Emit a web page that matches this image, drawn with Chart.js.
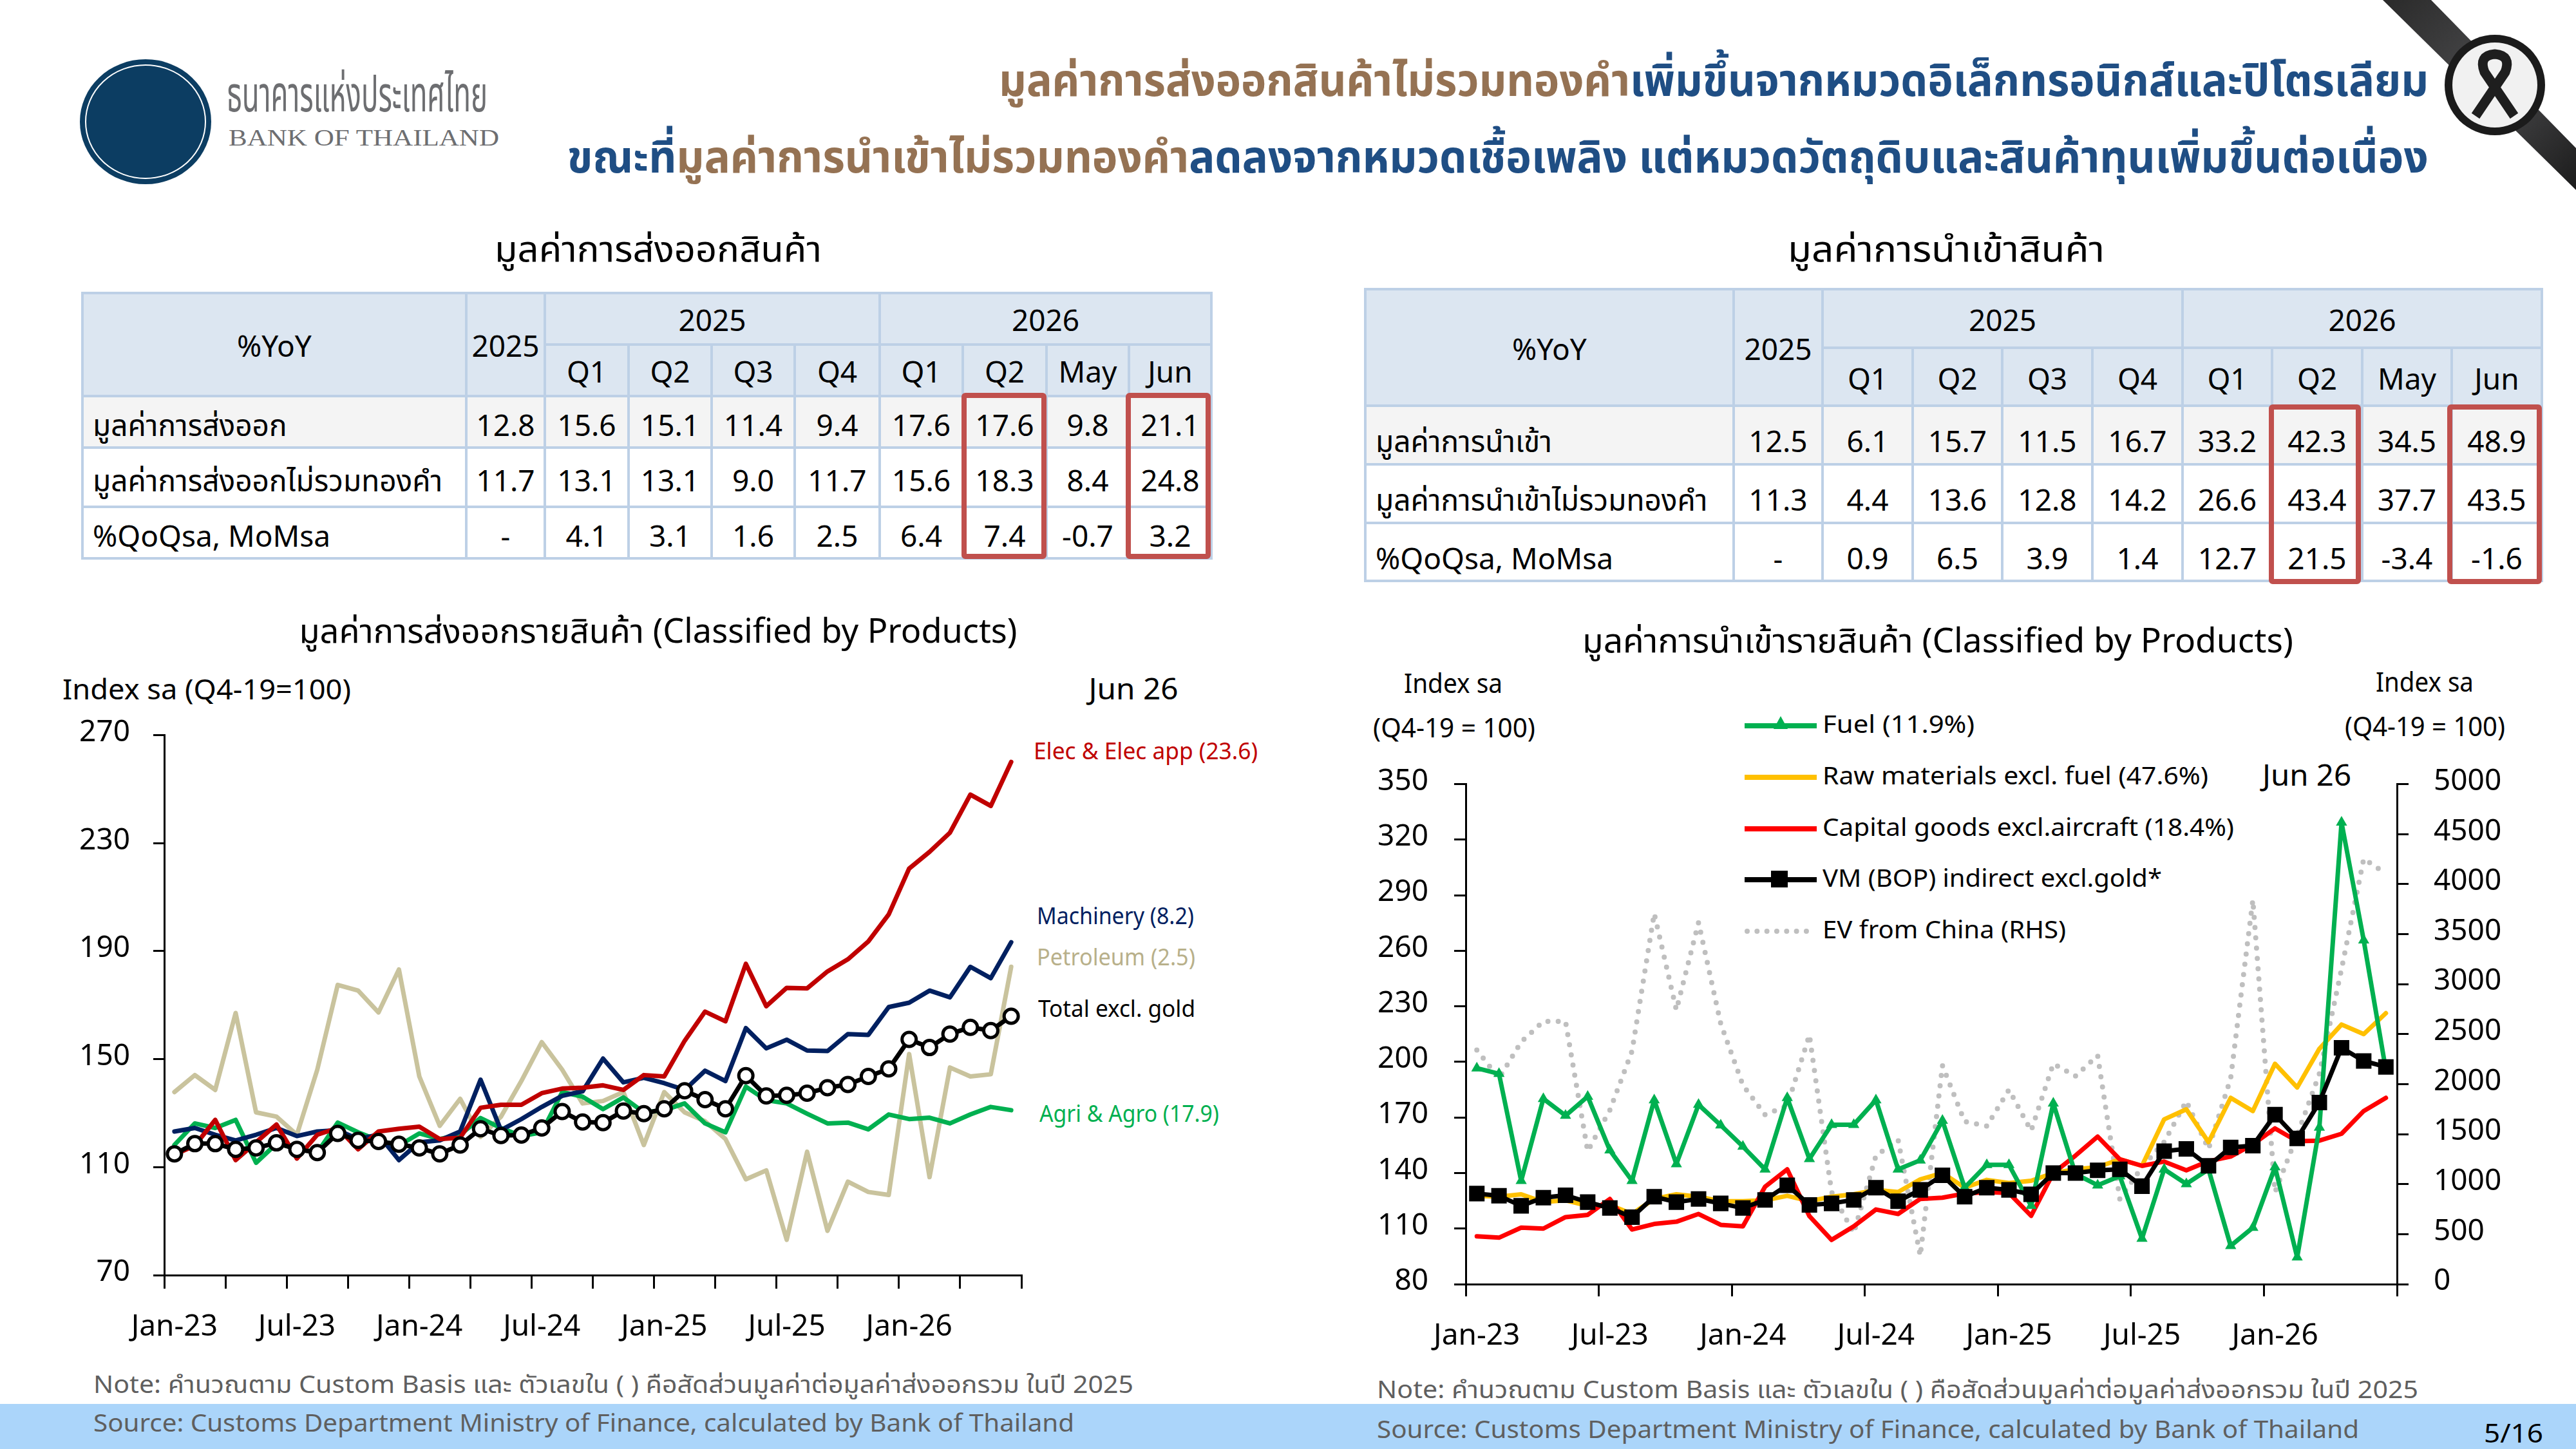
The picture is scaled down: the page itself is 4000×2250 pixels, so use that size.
<!DOCTYPE html>
<html lang="th">
<head>
<meta charset="utf-8">
<title>มูลค่าการส่งออกและนำเข้าสินค้า</title>
<script src="https://cdn.jsdelivr.net/npm/chart.js@4.4.1/dist/chart.umd.min.js"></script>
<style>
  html, body { margin: 0; padding: 0; background: #fff; }
  body {
    width: 4000px; height: 2250px; position: relative; overflow: hidden;
    font-family: 'Noto Sans Thai', 'Noto Sans', 'Open Sans', sans-serif; color: #000;
  }
  .t { position: absolute; white-space: nowrap; line-height: 1.2; }
  .brown { color: #957253; }
  .blue { color: #1f4e84; }
  .note { font-size: 38px; color: #5f5f5f; }
  table.tb { position: absolute; border-collapse: collapse; table-layout: fixed; font-size: 46px; }
  table.tb td { border: 4px solid #bdd0e6; text-align: center; padding: 0; white-space: nowrap; line-height: 1.1; overflow: visible; }
  table.tb td span { position: relative; }
  table.tb tr.head td { background: #dce6f1; }
  table.tb tr.r1 td { background: #f4f4f4; }
  table.tb td.lab { text-align: left; padding-left: 14px; }
  #exportTable tr.head span { top: 5px; }
  #exportTable tr.body span { top: 8px; }
  #importTable tr.head span { top: 6px; }
  #importTable tr.body span { top: 13px; }
  .redbox { position: absolute; border: 8px solid #c0504d; border-radius: 6px; box-sizing: border-box; }
  .band { position: absolute; left: 0; top: 2180px; width: 4000px; height: 70px; background: #abd5fa; }
  .lg { position: absolute; height: 0; }
</style>
</head>
<body>

<svg class="t" style="left:123px;top:91px" width="206" height="196" viewBox="0 0 206 196">
  <ellipse cx="103" cy="98" rx="102" ry="97" fill="#0c3d62"/>
  <ellipse cx="103" cy="98" rx="93" ry="88" fill="none" stroke="#ffffff" stroke-width="2"/>
</svg>
<div class="t fit" data-w="405" style="left:352px;top:104px;font-size:76px;color:#6d6e71">ธนาคารแห่งประเทศไทย</div>
<div class="t fit" data-w="420" style="left:355px;top:193px;font-size:36px;color:#6d6e71;font-family:'Liberation Serif',serif">BANK OF THAILAND</div>

<div class="t fit" data-w="2220" data-anchor="right" style="right:229px;top:86px;font-size:70px;font-weight:bold"><span class="brown">มูลค่าการส่งออกสินค้าไม่รวมทองคำ</span><span class="blue">เพิ่มขึ้นจากหมวดอิเล็กทรอนิกส์และปิโตรเลียม</span></div>
<div class="t fit" data-w="2890" data-anchor="right" style="right:229px;top:205px;font-size:70px;font-weight:bold"><span class="blue">ขณะที่</span><span class="brown">มูลค่าการนำเข้าไม่รวมทองคำ</span><span class="blue">ลดลงจากหมวดเชื้อเพลิง แต่หมวดวัตถุดิบและสินค้าทุนเพิ่มขึ้นต่อเนื่อง</span></div>

<svg class="t" style="left:3600px;top:0" width="400" height="330" viewBox="0 0 400 330">
  <defs>
    <linearGradient id="rb" x1="0" y1="0" x2="1" y2="1">
      <stop offset="0" stop-color="#2a2a2a"/><stop offset="0.5" stop-color="#4a4a4c"/><stop offset="1" stop-color="#1c1c1c"/>
    </linearGradient>
  </defs>
  <polygon points="100,0 175,0 400,230 400,295" fill="url(#rb)"/>
  <circle cx="274" cy="132" r="78" fill="#1b1b1b"/>
  <circle cx="274" cy="132" r="66" fill="#f1f1f1"/>
  <path d="M 244 180 L 290 112 Q 300 86 274 84 Q 248 86 258 112 L 304 180" fill="none" stroke="#1e1e1e" stroke-width="15" stroke-linejoin="round"/>
</svg>

<div class="t fit" data-w="508" data-anchor="center" style="left:1022px;top:356px;font-size:56px">มูลค่าการส่งออกสินค้า</div>
<div class="t fit" data-w="492" data-anchor="center" style="left:3022px;top:356px;font-size:56px">มูลค่าการนำเข้าสินค้า</div>

<table class="tb" id="exportTable" style="left:126px;top:453px;width:1753px">
  <colgroup>
    <col style="width:596px"><col style="width:122px"><col style="width:130px"><col style="width:129px"><col style="width:129px">
    <col style="width:132px"><col style="width:129px"><col style="width:130px"><col style="width:128px"><col style="width:128px">
  </colgroup>
</table>
<table class="tb" id="importTable" style="left:2118px;top:447px;width:1827px">
  <colgroup>
    <col style="width:572px"><col style="width:138px"><col style="width:140px"><col style="width:139px"><col style="width:140px">
    <col style="width:140px"><col style="width:139px"><col style="width:140px"><col style="width:139px"><col style="width:140px">
  </colgroup>
</table>
<div class="redbox" style="left:1493px;top:610px;width:132px;height:258px"></div>
<div class="redbox" style="left:1748px;top:610px;width:132px;height:258px"></div>
<div class="redbox" style="left:3523px;top:628px;width:143px;height:279px"></div>
<div class="redbox" style="left:3800px;top:628px;width:147px;height:279px"></div>

<div class="t fit" data-w="1115" data-anchor="center" style="left:1022px;top:951px;font-size:52px">มูลค่าการส่งออกรายสินค้า (Classified by Products)</div>
<div class="t fit" data-w="1104" data-anchor="center" style="left:3009px;top:966px;font-size:52px">มูลค่าการนำเข้ารายสินค้า (Classified by Products)</div>

<div class="t fit" data-w="448" style="left:97px;top:1047px;font-size:44px">Index sa (Q4-19=100)</div>
<div class="t fit" data-w="139" data-anchor="center" style="left:1760px;top:1045px;font-size:46px">Jun 26</div>
<div class="t fit" data-w="348" style="left:1605px;top:1147px;font-size:36px;color:#c00000">Elec &amp; Elec app (23.6)</div>
<div class="t fit" data-w="244" style="left:1610px;top:1403px;font-size:36px;color:#002060">Machinery (8.2)</div>
<div class="t fit" data-w="246" style="left:1610px;top:1467px;font-size:36px;color:#b8b08a">Petroleum (2.5)</div>
<div class="t fit" data-w="244" style="left:1612px;top:1547px;font-size:36px">Total excl. gold</div>
<div class="t fit" data-w="279" style="left:1614px;top:1710px;font-size:36px;color:#00b050">Agri &amp; Agro (17.9)</div>

<div class="t fit" data-w="153" style="left:2180px;top:1038px;font-size:42px">Index sa</div>
<div class="t fit" data-w="252" style="left:2132px;top:1107px;font-size:42px">(Q4-19 = 100)</div>
<div class="t fit" data-w="152" style="left:3689px;top:1036px;font-size:42px">Index sa</div>
<div class="t fit" data-w="249" style="left:3641px;top:1105px;font-size:42px">(Q4-19 = 100)</div>
<div class="t fit" data-w="138" data-anchor="center" style="left:3582px;top:1179px;font-size:46px">Jun 26</div>

<div class="lg" style="left:2709px;top:1123px;width:112px;border-top:8px solid #00b050"></div>
<svg class="t" style="left:2754px;top:1112px" width="22" height="20"><polygon points="11,0 22,20 0,20" fill="#00b050"/></svg>
<div class="lg" style="left:2709px;top:1203px;width:112px;border-top:8px solid #ffc000"></div>
<div class="lg" style="left:2709px;top:1283px;width:112px;border-top:8px solid #ff0000"></div>
<div class="lg" style="left:2709px;top:1362px;width:112px;border-top:8px solid #000"></div>
<div class="t" style="left:2750px;top:1352px;width:26px;height:26px;background:#000"></div>
<div class="lg" style="left:2709px;top:1442px;width:100px;border-top:8px dotted #bfbfbf"></div>
<div class="t fit" data-w="236" style="left:2830px;top:1104px;font-size:38px">Fuel (11.9%)</div>
<div class="t fit" data-w="599" style="left:2830px;top:1184px;font-size:38px">Raw materials excl. fuel (47.6%)</div>
<div class="t fit" data-w="639" style="left:2830px;top:1264px;font-size:38px">Capital goods excl.aircraft (18.4%)</div>
<div class="t fit" data-w="527" style="left:2830px;top:1343px;font-size:38px">VM (BOP) indirect excl.gold*</div>
<div class="t fit" data-w="378" style="left:2830px;top:1423px;font-size:38px">EV from China (RHS)</div>

<canvas id="exportChart" class="t" style="left:60px;top:1078px" width="1560" height="1042"></canvas>
<canvas id="importChart" class="t" style="left:2100px;top:1150px" width="1880" height="970"></canvas>

<div class="band"></div>
<div class="t note fit" data-w="1615" style="left:145px;top:2129px">Note: คำนวณตาม Custom Basis และ ตัวเลขใน ( ) คือสัดส่วนมูลค่าต่อมูลค่าส่งออกรวม ในปี 2025</div>
<div class="t note fit" data-w="1617" style="left:2138px;top:2137px">Note: คำนวณตาม Custom Basis และ ตัวเลขใน ( ) คือสัดส่วนมูลค่าต่อมูลค่าส่งออกรวม ในปี 2025</div>
<div class="t note fit" data-w="1523" style="left:145px;top:2189px">Source: Customs Department Ministry of Finance, calculated by Bank of Thailand</div>
<div class="t note fit" data-w="1525" style="left:2138px;top:2199px">Source: Customs Department Ministry of Finance, calculated by Bank of Thailand</div>
<div class="t fit" data-w="92" style="left:3857px;top:2204px;font-size:40px">5/16</div>

<script>
// ---- tables ----
const tableYears = ['2025', '2026'];
const tablePeriods = ['Q1', 'Q2', 'Q3', 'Q4', 'Q1', 'Q2', 'May', 'Jun'];

const exportRows = ['มูลค่าการส่งออก', 'มูลค่าการส่งออกไม่รวมทองคำ', '%QoQsa, MoMsa'];
const exportValues = [
    ['12.8', '15.6', '15.1', '11.4', '9.4', '17.6', '17.6', '9.8', '21.1'],
    ['11.7', '13.1', '13.1', '9.0', '11.7', '15.6', '18.3', '8.4', '24.8'],
    ['-', '4.1', '3.1', '1.6', '2.5', '6.4', '7.4', '-0.7', '3.2']
];
const importRows = ['มูลค่าการนำเข้า', 'มูลค่าการนำเข้าไม่รวมทองคำ', '%QoQsa, MoMsa'];
const importValues = [
    ['12.5', '6.1', '15.7', '11.5', '16.7', '33.2', '42.3', '34.5', '48.9'],
    ['11.3', '4.4', '13.6', '12.8', '14.2', '26.6', '43.4', '37.7', '43.5'],
    ['-', '0.9', '6.5', '3.9', '1.4', '12.7', '21.5', '-3.4', '-1.6']
];

function cell(text, attrs) {
    return '<td' + (attrs || '') + '><span>' + text + '</span></td>';
}

function fillTable(id, rows, values, headH, rowH) {
    const tb = document.getElementById(id);
    let html = '<tr class="head" style="height:' + headH[0] + 'px">' + cell('%YoY', ' rowspan="2"') + cell('2025', ' rowspan="2"') +
        cell(tableYears[0], ' colspan="4"') + cell(tableYears[1], ' colspan="4"') + '</tr>';
    html += '<tr class="head" style="height:' + headH[1] + 'px">' + tablePeriods.map(p => cell(p)).join('') + '</tr>';
    rows.forEach((name, r) => {
        html += '<tr class="body r' + (r + 1) + '" style="height:' + rowH[r] + 'px">' + cell(name, ' class="lab"') +
            values[r].map(v => cell(v)).join('') + '</tr>';
    });
    tb.insertAdjacentHTML('beforeend', html);
}
fillTable('exportTable', exportRows, exportValues, [80, 80], [80, 92, 80]);
fillTable('importTable', importRows, importValues, [91, 90], [91, 91, 90]);

// ---- squeeze text to the widths ----
document.querySelectorAll('.fit').forEach(el => {
    const target = parseFloat(el.dataset.w);
    const w = el.getBoundingClientRect().width;
    const anchor = el.dataset.anchor || 'left';
    if (anchor === 'center') {
        el.style.transformOrigin = '0 50%';
        el.style.transform = 'scaleX(' + (target / w) + ') translateX(-50%)';
    } else {
        el.style.transformOrigin = anchor === 'right' ? 'right center' : 'left center';
        el.style.transform = 'scaleX(' + (target / w) + ')';
    }
});

// ---- chart data ----
const months = [
    'Jan-23', 'Feb-23', 'Mar-23', 'Apr-23', 'May-23', 'Jun-23', 'Jul-23', 'Aug-23', 'Sep-23', 'Oct-23', 'Nov-23', 'Dec-23',
    'Jan-24', 'Feb-24', 'Mar-24', 'Apr-24', 'May-24', 'Jun-24', 'Jul-24', 'Aug-24', 'Sep-24', 'Oct-24', 'Nov-24', 'Dec-24',
    'Jan-25', 'Feb-25', 'Mar-25', 'Apr-25', 'May-25', 'Jun-25', 'Jul-25', 'Aug-25', 'Sep-25', 'Oct-25', 'Nov-25', 'Dec-25',
    'Jan-26', 'Feb-26', 'Mar-26', 'Apr-26', 'May-26', 'Jun-26'
];

// exports, index sa (Q4-19=100)
const elecApp = [114.6, 118.0, 127.5, 112.6, 119.2, 125.8, 113.2, 122.0, 124.5, 116.6, 123.2, 124.2,
    125.0, 120.4, 120.9, 132.0, 133.1, 133.1, 137.4, 139.1, 139.4, 140.3, 138.6, 144.1,
    143.6, 156.8, 167.6, 164.0, 185.3, 169.6, 176.4, 176.2, 182.5, 187.0, 193.6, 203.6,
    220.6, 226.8, 233.9, 248.0, 243.8, 260.1];
const machinery = [123.2, 124.5, 122.0, 119.9, 122.0, 124.5, 121.5, 123.2, 123.7, 120.4, 122.0, 112.6,
    119.2, 119.9, 123.2, 142.4, 123.7, 127.8, 132.3, 136.4, 138.1, 150.2, 141.4, 143.1,
    141.1, 138.6, 145.7, 141.9, 161.5, 154.0, 157.2, 153.2, 153.0, 159.3, 159.0, 169.3,
    170.9, 175.4, 172.9, 184.2, 180.0, 193.3];
const petroleum = [137.8, 144.1, 138.6, 167.1, 130.3, 128.7, 122.0, 146.1, 177.5, 175.4, 167.3, 183.2,
    143.6, 125.3, 135.3, 121.2, 128.7, 141.9, 156.3, 146.1, 133.6, 134.5, 137.8, 118.2,
    137.8, 130.3, 127.0, 120.4, 105.5, 108.8, 83.1, 115.7, 86.4, 104.6, 100.8, 99.7,
    151.9, 106.3, 146.9, 143.6, 144.4, 184.2];
const agriAgro = [118.2, 126.2, 124.5, 127.5, 111.6, 118.7, 117.0, 115.4, 126.5, 122.9, 119.9, 118.0,
    122.5, 120.4, 122.0, 128.2, 124.5, 121.5, 122.9, 137.8, 136.1, 131.5, 135.8, 130.3,
    131.1, 133.6, 126.2, 122.9, 139.8, 134.8, 133.6, 129.8, 126.2, 126.5, 124.0, 129.5,
    127.8, 128.3, 126.2, 129.5, 132.3, 131.1];
const totalExGold = [114.9, 118.7, 118.7, 116.6, 117.1, 119.0, 116.6, 115.4, 122.5, 119.9, 119.5, 118.5,
    117.1, 114.9, 118.2, 124.2, 121.7, 121.9, 124.5, 130.6, 126.7, 126.5, 130.8, 129.8,
    131.6, 138.3, 135.0, 131.6, 143.9, 136.4, 136.6, 137.4, 139.4, 140.6, 143.6, 146.4,
    157.3, 154.3, 159.3, 161.8, 160.6, 165.9];
const exportYTicks = [70, 110, 150, 190, 230, 270];

// imports, index sa (Q4-19=100); EV on the right axis
const fuel = [196.6, 193.6, 135.8, 180.1, 171.0, 181.3, 152.3, 135.8, 179.4, 144.9, 176.9, 165.8,
    154.3, 142.0, 180.6, 147.6, 166.1, 166.1, 179.4, 142.0, 146.9, 168.3, 132.1, 144.4,
    144.4, 122.3, 177.6, 139.5, 133.4, 138.3, 104.6, 142.0, 134.1, 142.0, 100.7, 110.5,
    143.2, 94.5, 164.6, 329.3, 265.7, 195.6];
const rawMaterials = [127.7, 127.2, 128.5, 124.3, 125.3, 122.3, 122.8, 117.9, 126.0, 128.5, 127.2, 124.8,
    124.8, 125.3, 127.7, 124.8, 127.2, 128.5, 130.9, 129.7, 136.6, 140.0, 132.1, 136.3,
    134.6, 135.8, 140.0, 142.0, 143.2, 147.4, 143.9, 169.0, 174.4, 156.7, 180.6, 173.5,
    199.0, 186.2, 207.1, 220.2, 215.0, 226.3];
const capitalGoods = [105.8, 105.1, 110.5, 110.0, 116.2, 117.4, 126.0, 109.5, 112.5, 113.7, 117.9, 112.0,
    111.2, 132.6, 142.0, 116.7, 103.9, 111.2, 120.3, 117.9, 126.0, 126.7, 128.9, 129.7,
    129.2, 116.9, 140.0, 149.4, 159.7, 147.4, 143.9, 146.2, 141.5, 146.4, 148.9, 155.5,
    164.1, 157.2, 157.5, 161.2, 173.5, 180.6];
const vmIndirect = [128.9, 127.7, 122.3, 126.7, 128.0, 124.3, 121.1, 116.2, 127.2, 124.3, 126.0, 123.6,
    121.1, 125.5, 133.4, 122.8, 123.6, 125.5, 132.1, 124.8, 130.9, 138.8, 127.2, 132.1,
    130.9, 128.5, 140.0, 140.0, 141.5, 142.0, 132.9, 151.8, 153.0, 143.9, 153.8, 154.8,
    171.5, 158.7, 178.1, 207.6, 200.5, 197.3];
const evChina = [2341, 2058, 2422, 2627, 2627, 1330, 1740, 2331, 3707, 2741, 3616, 2605,
    1990, 1694, 1785, 2491, 920, 510, 1284, 1443, 282, 2186, 1626, 1580,
    1944, 1534, 2204, 2081, 2286, 851, 1170, 1421, 1830, 1352, 2058, 3843,
    920, 1489, 2104, 3151, 4253, 4107];
const importYTicks = [80, 110, 140, 170, 200, 230, 260, 290, 320, 350];
const evYTicks = [0, 500, 1000, 1500, 2000, 2500, 3000, 3500, 4000, 4500, 5000];

// ---- charts ----
Chart.defaults.font.family = "'Noto Sans Thai', 'Noto Sans', 'Open Sans', sans-serif";
Chart.defaults.color = '#000';

const black = '#000000';
const clear = 'rgba(0,0,0,0)';

function monthAxis(markEvery, labelEvery, tickLen, pad, height) {
    return {
        type: 'category',
        offset: true,
        grid: {
            offset: true,
            drawOnChartArea: false,
            tickLength: tickLen,
            lineWidth: 3,
            color: (ctx) => (ctx.index === undefined || ctx.index % markEvery === 0 ? black : clear)
        },
        border: { color: black, width: 3 },
        ticks: {
            autoSkip: false, maxRotation: 0, minRotation: 0, padding: pad, font: { size: 46 },
            callback: function (val, i) { return i % labelEvery === 0 ? this.getLabelForValue(val) : ''; }
        },
        afterFit: (s) => { s.height = height; }
    };
}

function valueAxis(list, pos, tickLen, pad, width) {
    return {
        position: pos,
        min: list[0],
        max: list[list.length - 1],
        afterBuildTicks: (a) => { a.ticks = list.map(v => ({ value: v })); },
        grid: { drawOnChartArea: false, tickLength: tickLen, lineWidth: 3, color: black },
        border: { color: black, width: 3 },
        ticks: { padding: pad, font: { size: 46 }, callback: (v) => String(v) },
        afterFit: (s) => { s.width = width; }
    };
}

function line(label, data, color, order, extra) {
    return Object.assign({
        label: label, data: data, borderColor: color, backgroundColor: color,
        borderWidth: 7, pointRadius: 0, tension: 0, order: order,
        borderJoinStyle: 'round', borderCapStyle: 'round'
    }, extra || {});
}

const baseOptions = {
    responsive: false,
    animation: false,
    devicePixelRatio: 1,
    plugins: { legend: { display: false }, tooltip: { enabled: false }, title: { display: false } }
};

new Chart(document.getElementById('exportChart'), {
    type: 'line',
    data: {
        labels: months,
        datasets: [
            line('Total excl. gold', totalExGold, black, 0, {
                pointRadius: 11, pointBackgroundColor: '#ffffff', pointBorderColor: black, pointBorderWidth: 5
            }),
            line('Elec & Elec app (23.6)', elecApp, '#c00000', 1),
            line('Machinery (8.2)', machinery, '#002060', 2),
            line('Agri & Agro (17.9)', agriAgro, '#00b050', 3),
            line('Petroleum (2.5)', petroleum, '#c9c39d', 4)
        ]
    },
    options: Object.assign({}, baseOptions, {
        layout: { padding: { top: 56, right: 34, left: 0, bottom: 0 } },
        scales: {
            x: monthAxis(3, 6, 21, 36, 140),
            y: valueAxis(exportYTicks, 'left', 17, 36, 195)
        }
    })
});

new Chart(document.getElementById('importChart'), {
    type: 'line',
    data: {
        labels: months,
        datasets: [
            line('VM (BOP) indirect excl.gold*', vmIndirect, black, 0, {
                pointStyle: 'rect', pointRadius: 17, pointBackgroundColor: black, pointBorderColor: black, pointBorderWidth: 0
            }),
            line('Fuel (11.9%)', fuel, '#00b050', 1, {
                pointStyle: 'triangle', pointRadius: 10, pointBackgroundColor: '#00b050', pointBorderColor: '#00b050', pointBorderWidth: 0
            }),
            line('Capital goods excl.aircraft (18.4%)', capitalGoods, '#ff0000', 2),
            line('Raw materials excl. fuel (47.6%)', rawMaterials, '#ffc000', 3),
            line('EV from China (RHS)', evChina, '#bfbfbf', 4, {
                yAxisID: 'y2', borderWidth: 8, borderDash: [0, 16], borderCapStyle: 'round'
            })
        ]
    },
    options: Object.assign({}, baseOptions, {
        layout: { padding: { top: 60, right: 58, left: 0, bottom: 0 } },
        scales: {
            x: monthAxis(6, 6, 19, 38, 126),
            y: valueAxis(importYTicks, 'left', 18, 40, 176),
            y2: valueAxis(evYTicks, 'right', 18, 39, 200)
        }
    })
});
</script>
</body>
</html>
